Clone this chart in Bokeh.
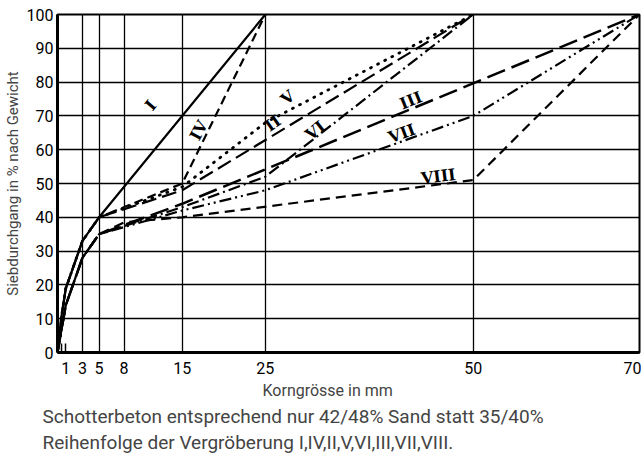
from bokeh.plotting import figure
from bokeh.models import FixedTicker, Label, Range1d, Title
from bokeh.embed import file_html
from bokeh.resources import INLINE

# Sieve sizes (mm) and passing percentages of each grading curve
sizes_I = [0, 0.5, 1, 3, 5, 25]
passing_I = [0, 11, 19, 33, 40, 100]

sizes_IV = [0, 0.5, 1, 3, 5, 15, 25]
passing_IV = [0, 11, 19, 33, 40, 50, 100]

sizes_II = [0, 0.5, 1, 3, 5, 15, 50]
passing_II = [0, 11, 19, 33, 40, 48, 100]

sizes_V = [0, 0.5, 1, 3, 5, 15, 25, 50]
passing_V = [0, 11, 19, 33, 40, 49, 68, 100]

sizes_VI = [0, 0.5, 1, 3, 5, 15, 25, 50]
passing_VI = [0, 7, 14, 28, 35, 43, 52, 100]

sizes_III = [0, 0.5, 1, 3, 5, 15, 70]
passing_III = [0, 7, 14, 28, 35, 44, 100]

sizes_VII = [0, 0.5, 1, 3, 5, 15, 25, 50, 70]
passing_VII = [0, 7, 14, 28, 35, 42, 48, 70, 100]

sizes_VIII = [0, 0.5, 1, 3, 5, 8, 15, 50, 70]
passing_VIII = [0, 7, 14, 28, 35, 38.5, 40, 51, 100]

x_ticks = [1, 3, 5, 8, 15, 25, 50, 70]
x_grid = [3, 5, 8, 15, 25, 50]
y_ticks = [0, 10, 20, 30, 40, 50, 60, 70, 80, 90, 100]

FONT = "Roboto"
NUM_FONT = "DejaVu Serif"

p = figure(width=641, height=459, x_range=Range1d(0, 70), y_range=Range1d(0, 100),
           output_backend="svg", toolbar_location=None,
           min_border_left=57, min_border_right=2, min_border_top=14, min_border_bottom=107)
p.background_fill_color = "white"
p.border_fill_color = "white"
p.outline_line_color = "black"
p.outline_line_width = 2

# axes
p.xaxis.ticker = FixedTicker(ticks=x_ticks, minor_ticks=[0.5, 1.0])
p.xaxis.major_tick_line_color = None
p.xaxis.major_tick_in = 0
p.xaxis.major_tick_out = 0
p.xaxis.minor_tick_in = 9
p.xaxis.minor_tick_out = 0
p.xaxis.minor_tick_line_width = 1.5
p.xaxis.minor_tick_line_color = "black"
p.xaxis.axis_line_width = 3
p.xaxis.major_label_standoff = 9
p.xaxis.major_label_text_font = FONT
p.xaxis.major_label_text_font_size = "16px"
p.xaxis.major_label_text_color = "black"

p.yaxis.ticker = FixedTicker(ticks=y_ticks, minor_ticks=[])
p.yaxis.major_tick_line_color = None
p.yaxis.major_tick_in = 0
p.yaxis.major_tick_out = 0
p.yaxis.minor_tick_line_color = None
p.yaxis.axis_line_width = 3
p.yaxis.major_label_standoff = 4
p.yaxis.major_label_text_font = FONT
p.yaxis.major_label_text_font_size = "16px"
p.yaxis.major_label_text_color = "black"
p.yaxis.axis_label = "Siebdurchgang in % nach Gewicht"
p.yaxis.axis_label_text_font = FONT
p.yaxis.axis_label_text_font_size = "15px"
p.yaxis.axis_label_text_font_style = "normal"
p.yaxis.axis_label_standoff = 2

# grid
p.xgrid.ticker = FixedTicker(ticks=x_grid)
p.ygrid.ticker = FixedTicker(ticks=y_ticks)
for g in (p.xgrid, p.ygrid):
    g.grid_line_color = "black"
    g.grid_line_width = 1.3
    g.grid_line_alpha = 1.0

LW = 2.2
p.line(sizes_I, passing_I, line_color="black", line_width=LW)
p.line(sizes_IV, passing_IV, line_color="black", line_width=LW, line_dash="9 5")
p.line(sizes_V, passing_V, line_color="black", line_width=2.8, line_dash="1 7", line_cap="round")
p.line(sizes_II, passing_II, line_color="black", line_width=LW, line_dash="15 6")
p.line(sizes_VI, passing_VI, line_color="black", line_width=LW, line_dash="12 4 2 4")
p.line(sizes_III, passing_III, line_color="black", line_width=2.5, line_dash="19 7")
p.line(sizes_VII, passing_VII, line_color="black", line_width=LW, line_dash="12 4 2 4 2 4")
p.line(sizes_VIII, passing_VIII, line_color="black", line_width=LW, line_dash="10 6")

# curve numerals
numerals = [
    ("I", 11.2, 73.1, 50),
    ("IV", 17.0, 65.7, 62),
    ("V", 27.7, 75.4, 40),
    ("II", 25.9, 67.8, 35),
    ("VI", 31.0, 65.7, 38),
    ("III", 42.5, 74.6, 22),
    ("VII", 41.4, 64.8, 20),
    ("VIII", 45.8, 52.1, 7),
]
for txt, x, y, ang in numerals:
    p.add_layout(Label(x=x, y=y, text=txt, angle=ang, angle_units="deg",
                       text_font=NUM_FONT, text_font_style="bold", text_font_size="16px",
                       text_align="center", text_baseline="middle", text_color="black"))

# x-axis title and caption lines below the axis
p.add_layout(Title(text="Korngrösse in mm", align="left", offset=205, standoff=4,
                   text_font=FONT, text_font_size="16px", text_font_style="normal"), "below")
p.add_layout(Title(text="Schotterbeton entsprechend nur 42/48% Sand statt 35/40%",
                   align="left", offset=-15, standoff=3,
                   text_font=FONT, text_font_size="19px", text_font_style="normal"), "below")
p.add_layout(Title(text="Reihenfolge der Vergröberung I,IV,II,V,VI,III,VII,VIII.",
                   align="left", offset=-15, standoff=-2,
                   text_font=FONT, text_font_size="19px", text_font_style="normal"), "below")

open("out.html", "w").write(file_html(p, INLINE))
